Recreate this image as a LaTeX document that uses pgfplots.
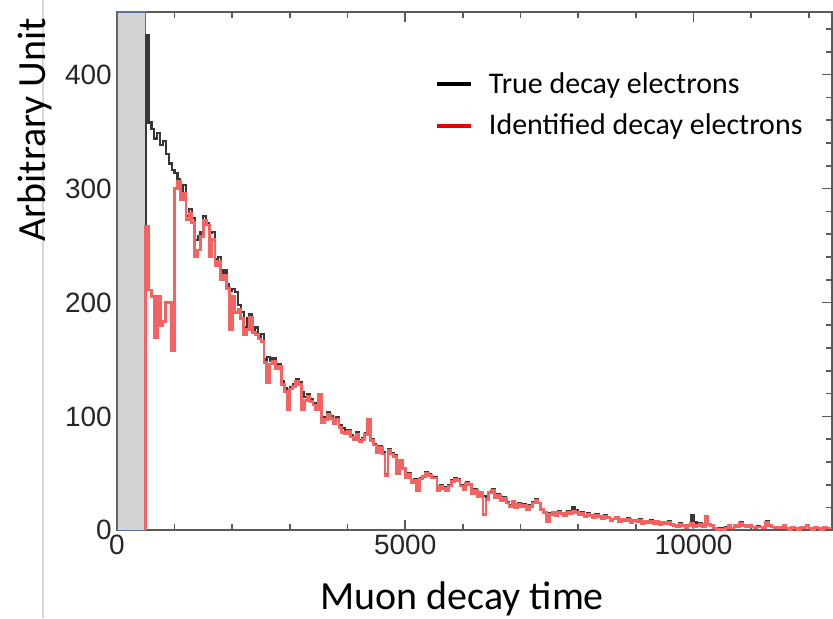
\documentclass[border=0pt]{standalone}
\usepackage{fontspec}
\setmainfont{Carlito}
\newfontfamily\tickfont{Liberation Sans}
\usepackage{pgfplots}
\usepackage{pgfplotstable}
\pgfplotsset{compat=1.18}

\definecolor{truecol}{RGB}{55,55,55}
\definecolor{idcol}{RGB}{244,98,98}
\definecolor{vetofill}{RGB}{211,211,213}
\definecolor{vetoedge}{RGB}{91,110,150}
\definecolor{framecol}{RGB}{90,90,90}
\definecolor{sidebar}{RGB}{215,215,215}

% decay time histogram, 50 ns bins (left edge), true vs identified electrons
\pgfplotstableread{
t     true  ident
500   0     0
500   435   267
550   358   211
600   352   205
650   344   169
700   349   205
750   338   180
800   342   183
850   330   200
900   322   200
950   316   158
1000  314   300
1050  308   306
1100  294   290
1150  303   296
1200  276   273
1250  282   278
1300  274   270
1350  255   240
1400  258   246
1450  262   258
1500  276   272
1550  270   268
1600  261   240
1650  262   255
1700  238   232
1750  240   236
1800  224   220
1850  228   224
1900  216   212
1950  210   176
2000  212   205
2050  209   191
2100  198   194
2150  192   186
2200  178   172
2250  186   176
2300  190   187
2350  176   174
2400  178   172
2450  170   168
2500  172   166
2550  150   147
2600  152   130
2650  149   146
2700  151   148
2750  144   142
2800  146   144
2850  131   128
2900  125   122
2950  118   106
3000  126   124
3050  128   126
3100  133   131
3150  130   128
3200  121   106
3250  117   114
3300  120   118
3350  115   113
3400  112   110
3450  108   106
3500  119   119
3550  96    95
3600  99    97
3650  104   102
3700  100   98
3750  95    94
3800  99    97
3850  92    90
3900  90    86
3950  86    85
4000  88    87
4050  84    82
4100  82    80
4150  86    84
4200  79    78
4250  81    80
4300  85    84
4350  97    97
4400  80    79
4450  76    75
4500  70    68
4550  74    73
4600  69    67
4650  49    48
4700  71    70
4750  68    67
4800  66    65
4850  51    50
4900  62    61
4950  55    54
5000  47    46
5050  50    49
5100  43    42
5150  45    44
5200  36    35
5250  46    45
5300  48    47
5350  51    50
5400  49    48
5450  47    46
5500  47    46
5550  36    35
5600  40    39
5650  38    37
5700  36    35
5750  40    39
5800  44    43
5850  46    45
5900  45    44
5950  40    39
6000  37    36
6050  42    41
6100  41    40
6150  33    32
6200  36    35
6250  31    30
6300  34    33
6350  30    14
6400  28    27
6450  34    33
6500  36    35
6550  30    29
6600  32    31
6650  27    26
6700  29    28
6750  25    24
6800  22    21
6850  26    25
6900  20    20
6950  24    23
7000  21    21
7050  23    22
7100  19    18
7150  22    21
7200  25    24
7250  27    26
7300  24    24
7350  19    18
7400  16    16
7450  8     8
7500  15    14
7550  16    16
7600  14    13
7650  17    16
7700  15    15
7750  13    13
7800  17    16
7850  16    15
7900  20    17
7950  18    16
8000  14    14
8050  16    15
8100  12    12
8150  15    14
8200  13    13
8250  11    11
8300  14    13
8350  12    12
8400  10    10
8450  13    12
8500  11    11
8550  9     9
8600  10    10
8650  12    11
8700  8     8
8750  10    10
8800  9     9
8850  11    10
8900  7     7
8950  9     9
9000  8     8
9050  10    9
9100  6     6
9150  8     8
9200  7     7
9250  9     8
9300  6     6
9350  8     8
9400  5     5
9450  7     7
9500  6     6
9550  8     7
9600  5     5
9650  4     4
9700  3     3
9750  6     5
9800  4     4
9850  2     2
9900  5     4
9950  13    6
10000 7     3
10050 4     4
10100 6     5
10150 3     3
10200 11    12
10250 5     5
10300 4     4
10350 2     2
10400 1     1
10450 2     1
10500 1     1
10550 3     2
10600 4     4
10650 2     2
10700 5     4
10750 3     3
10800 7     6
10850 4     4
10900 3     3
10950 5     4
11000 3     3
11050 2     2
11100 4     3
11150 3     3
11200 2     2
11250 8     7
11300 5     4
11350 3     3
11400 2     2
11450 3     3
11500 2     2
11550 4     4
11600 2     2
11650 1     1
11700 3     3
11750 2     2
11800 1     1
11850 3     3
11900 2     2
11950 4     4
12000 2     2
12050 1     1
12100 3     3
12150 2     2
12200 1     1
12250 3     3
12300 2     2
12350 2     2
12400 2     2
}\decaytable

\begin{document}
\begin{tikzpicture}
\useasboundingbox (-58.5pt,-44pt) rectangle (358.5pt,265.5pt);
\draw[sidebar, line width=0.6pt] (-37pt,-44pt) -- (-37pt,265.5pt);
\begin{axis}[
  at={(0,0)}, anchor=south west,
  scale only axis, width=358pt, height=259.5pt,
  xmin=0, xmax=12400, ymin=0, ymax=455,
  xtick={0,5000,10000},
  minor xtick={1000,2000,3000,4000,6000,7000,8000,9000,11000,12000},
  ytick={0,100,200,300,400},
  minor ytick={20,40,...,440},
  tick align=inside,
  major tick length=5pt, minor tick length=3pt,
  axis line style={framecol, line width=1pt},
  every tick/.style={framecol, line width=0.8pt},
  scaled ticks=false,
  /pgf/number format/assume math mode=true,
  /pgf/number format/1000 sep={},
  ticklabel style={font=\tickfont\fontsize{14}{14}\selectfont, text=black!85},
  xticklabel style={yshift=1pt},
  yticklabel style={xshift=1pt},
  xlabel={Muon decay time},
  ylabel={Arbitrary Unit},
  label style={font=\fontsize{20}{22}\selectfont},
  xlabel style={at={(axis description cs:0.483,-0.133)}, anchor=center},
  ylabel style={at={(axis description cs:-0.1145,0.773)}, anchor=center},
  legend style={at={(axis description cs:0.436,0.90)}, anchor=north west,
    draw=none, fill=none, font=\fontsize{15}{17}\selectfont,
    row sep=5pt, legend cell align=left},
  legend image code/.code={\path[draw=none] (0pt,0pt) -- (24pt,0pt);
    \draw[#1, line width=2pt] (0pt,0pt) -- (17pt,0pt);},
]
\fill[vetofill] (axis cs:0,0) rectangle (axis cs:500,455);
\draw[vetoedge, line width=0.7pt] (axis cs:0,0) rectangle (axis cs:500,455);
\addplot[const plot, truecol, line width=1.1pt, forget plot] table[x=t, y=true] {\decaytable};
\addplot[const plot, idcol, line width=1.4pt, forget plot] table[x=t, y=ident] {\decaytable};
\addlegendimage{black}
\addlegendentry{True decay electrons}
\addlegendimage{red!90!black}
\addlegendentry{Identified decay electrons}
\node[font=\tickfont\fontsize{17}{17}\selectfont] at (axis description cs:0.976,-0.125) {ns};
\end{axis}
\end{tikzpicture}
\end{document}
